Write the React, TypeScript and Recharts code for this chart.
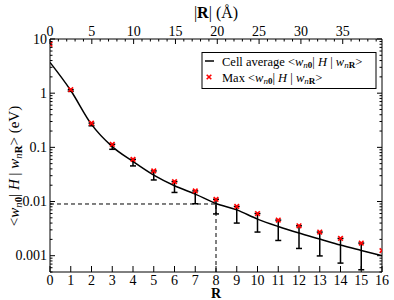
import React from "react";
import {
  ComposedChart,
  Line,
  Scatter,
  XAxis,
  YAxis,
  ErrorBar,
  ReferenceLine,
} from "recharts";

// lattice vector index R and matrix elements (eV)
const R_VALUES = [0, 1, 2, 3, 4, 5, 6, 7, 8, 9, 10, 11, 12, 13, 14, 15, 16];
const CELL_AVERAGE = [
  3.7, 1.12, 0.265, 0.103, 0.0546, 0.0306, 0.0195, 0.0137, 0.0092, 0.007,
  0.00474, 0.00346, 0.00262, 0.00203, 0.00157, 0.00125, 0.001,
];
const MAX_VALUES = [
  8.0, 1.16, 0.28, 0.114, 0.06, 0.0367, 0.0233, 0.0157, 0.011, 0.0081, 0.006,
  0.00454, 0.00356, 0.00273, 0.00208, 0.00171, 0.00124,
];
const MIN_VALUES: (number | null)[] = [
  null, 1.08, 0.25, 0.092, 0.0454, 0.025, 0.0147, 0.0091, 0.0059, 0.004,
  0.00273, 0.00191, 0.00136, 0.00099, 0.00073, 0.00055, null,
];

const R_TICKS = R_VALUES;
const DIST_TICKS = Array.from({ length: 40 }, (_, i) => i); // Å, labelled every 5
const DIST_PER_R = 2.481; // Å per lattice step
const DIST_MAX = 16 * DIST_PER_R;
const Y_DOMAIN = [0.0005, 10];
const Y_TICKS = [
  0.0005, 0.0006, 0.0007, 0.0008, 0.0009,
  0.001, 0.002, 0.003, 0.004, 0.005, 0.006, 0.007, 0.008, 0.009,
  0.01, 0.02, 0.03, 0.04, 0.05, 0.06, 0.07, 0.08, 0.09,
  0.1, 0.2, 0.3, 0.4, 0.5, 0.6, 0.7, 0.8, 0.9,
  1, 2, 3, 4, 5, 6, 7, 8, 9, 10,
];
const Y_LABELS: Record<string, string> = {
  "0.001": "0.001",
  "0.01": "0.01",
  "0.1": "0.1",
  "1": "1",
  "10": "10",
};
const CUTOFF_R = 8;
const CUTOFF_VALUE = 0.009;

const data = R_VALUES.map((r, i) => ({
  r,
  dist: r * DIST_PER_R,
  avg: CELL_AVERAGE[i],
  max: MAX_VALUES[i],
  err:
    MIN_VALUES[i] == null
      ? undefined
      : [CELL_AVERAGE[i] - (MIN_VALUES[i] as number), MAX_VALUES[i] - CELL_AVERAGE[i]],
}));

const PLOT = { left: 50, top: 39, right: 382, bottom: 272 };
const FONT = "'Liberation Serif', 'Times New Roman', Times, serif";

const isMajor = (v: number) => Math.abs(Math.log10(v) - Math.round(Math.log10(v))) < 1e-6;

function BottomTick(props: any) {
  const { x, payload } = props;
  return (
    <g>
      <line x1={x} x2={x} y1={PLOT.bottom} y2={PLOT.bottom - 6} stroke="#000" />
      <text x={x} y={PLOT.bottom + 13} textAnchor="middle" fontFamily={FONT} fontSize={14} fill="#000">
        {payload.value}
      </text>
    </g>
  );
}

function TopTick(props: any) {
  const { x, payload } = props;
  if (x > PLOT.right + 0.5) return null;
  const major = payload.value % 5 === 0;
  return (
    <g>
      <line x1={x} x2={x} y1={PLOT.top} y2={PLOT.top + (major ? 5 : 2.5)} stroke="#000" />
      {major && (
        <text x={x} y={PLOT.top - 3} textAnchor="middle" fontFamily={FONT} fontSize={14} fill="#000">
          {payload.value}
        </text>
      )}
    </g>
  );
}

function LeftTick(props: any) {
  const { y, payload } = props;
  const major = isMajor(payload.value);
  return (
    <g>
      <line x1={PLOT.left} x2={PLOT.left + (major ? 5 : 2.5)} y1={y} y2={y} stroke="#000" />
      {major && (
        <text x={PLOT.left - 3} y={y + 4.5} textAnchor="end" fontFamily={FONT} fontSize={14} fill="#000">
          {Y_LABELS[String(payload.value)]}
        </text>
      )}
    </g>
  );
}

function RightTick(props: any) {
  const { y, payload } = props;
  const major = isMajor(payload.value);
  return <line x1={PLOT.right} x2={PLOT.right - (major ? 5 : 2.5)} y1={y} y2={y} stroke="#000" />;
}

function Cross(props: any) {
  const { cx, cy } = props;
  if (cx == null || cy == null) return null;
  const s = 2.3;
  return (
    <g stroke="#ff0000" strokeWidth={1.6}>
      <line x1={cx - s} y1={cy - s} x2={cx + s} y2={cy + s} />
      <line x1={cx - s} y1={cy + s} x2={cx + s} y2={cy - s} />
    </g>
  );
}

// <w_n0 | H | w_nR>
function Bracket({ sub }: { sub: number }) {
  return (
    <>
      <tspan>{"<"}</tspan>
      <tspan fontStyle="italic">w</tspan>
      <tspan dy={sub} fontSize="0.72em">
        <tspan fontStyle="italic">n</tspan>
        <tspan fontWeight="bold">0</tspan>
      </tspan>
      <tspan dy={-sub}>{"| "}</tspan>
      <tspan fontStyle="italic">H</tspan>
      <tspan>{" | "}</tspan>
      <tspan fontStyle="italic">w</tspan>
      <tspan dy={sub} fontSize="0.72em">
        <tspan fontStyle="italic">n</tspan>
        <tspan fontWeight="bold">R</tspan>
      </tspan>
      <tspan dy={-sub}>{">"}</tspan>
    </>
  );
}

export default function App() {
  return (
    <div style={{ position: "relative", width: 394, height: 300, background: "#fff" }}>
      <style>{`body{margin:0}`}</style>
      <ComposedChart
        width={394}
        height={300}
        data={data}
        margin={{ top: 0, right: 0, bottom: 0, left: 0 }}
      >
        <XAxis
          xAxisId="bottom"
          dataKey="r"
          type="number"
          domain={[0, 16]}
          ticks={R_TICKS}
          interval={0}
          allowDataOverflow
          height={300 - PLOT.bottom}
          stroke="#000"
          tickLine={false}
          tick={<BottomTick />}
        />
        <XAxis
          xAxisId="top"
          dataKey="dist"
          orientation="top"
          type="number"
          domain={[0, DIST_MAX]}
          ticks={DIST_TICKS}
          interval={0}
          allowDataOverflow
          height={PLOT.top}
          stroke="#000"
          tickLine={false}
          tick={<TopTick />}
        />
        <YAxis
          yAxisId="left"
          scale="log"
          type="number"
          domain={Y_DOMAIN}
          ticks={Y_TICKS}
          interval={0}
          allowDataOverflow
          width={PLOT.left}
          stroke="#000"
          tickLine={false}
          tick={<LeftTick />}
        />
        <YAxis
          yAxisId="right"
          orientation="right"
          scale="log"
          type="number"
          domain={Y_DOMAIN}
          ticks={Y_TICKS}
          interval={0}
          allowDataOverflow
          width={394 - PLOT.right}
          stroke="#000"
          tickLine={false}
          tick={<RightTick />}
        />
        <ReferenceLine
          xAxisId="bottom"
          yAxisId="left"
          segment={[
            { x: 0, y: CUTOFF_VALUE },
            { x: CUTOFF_R, y: CUTOFF_VALUE },
          ]}
          stroke="#000"
          strokeDasharray="4 3"
        />
        <ReferenceLine
          xAxisId="bottom"
          yAxisId="left"
          segment={[
            { x: CUTOFF_R, y: Y_DOMAIN[0] },
            { x: CUTOFF_R, y: CUTOFF_VALUE },
          ]}
          stroke="#000"
          strokeDasharray="4 3"
        />
        <Line
          xAxisId="bottom"
          yAxisId="left"
          dataKey="avg"
          type="monotone"
          stroke="#000"
          strokeWidth={1.5}
          dot={false}
          isAnimationActive={false}
        >
          <ErrorBar dataKey="err" direction="y" width={3} stroke="#000" strokeWidth={1.5} />
        </Line>
        <Scatter
          xAxisId="bottom"
          yAxisId="left"
          dataKey="max"
          shape={<Cross />}
          isAnimationActive={false}
        />
      </ComposedChart>
      <svg
        width={394}
        height={300}
        style={{ position: "absolute", left: 0, top: 0, pointerEvents: "none" }}
        fontFamily={FONT}
      >
        <text x={216} y={18} textAnchor="middle" fontSize={16}>
          |<tspan fontWeight="bold">R</tspan>| (Å)
        </text>
        <text x={216} y={298} textAnchor="middle" fontSize={14} fontWeight="bold">
          R
        </text>
        <text transform="translate(19,166) rotate(-90)" textAnchor="middle" fontSize={15}>
          <Bracket sub={3} />
          <tspan>{" (eV)"}</tspan>
        </text>
        <rect x={202} y={52.5} width={174} height={36} fill="#fff" stroke="#000" />
        <line x1={205} x2={214} y1={61} y2={61} stroke="#000" strokeWidth={1.5} />
        <text x={222} y={65.5} fontSize={12.5}>
          Cell average <Bracket sub={2.5} />
        </text>
        <Cross cx={209} cy={77} />
        <text x={222} y={81.5} fontSize={12.5}>
          Max {"  "}
          <Bracket sub={2.5} />
        </text>
      </svg>
    </div>
  );
}
